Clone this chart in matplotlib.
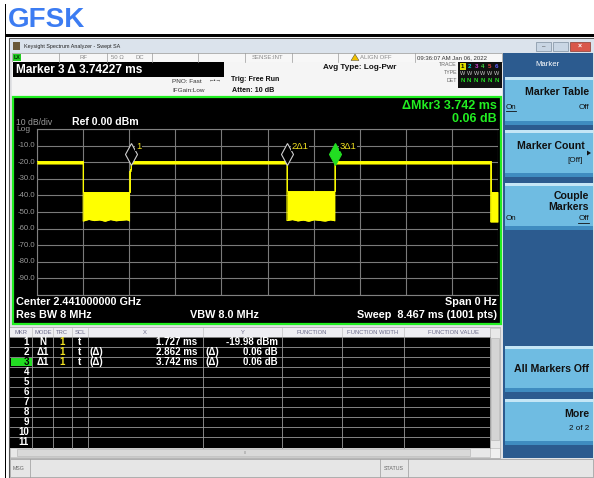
import matplotlib
matplotlib.use("Agg")
import matplotlib.pyplot as plt
from matplotlib.patches import Rectangle, Polygon
from matplotlib import transforms

plt.rcParams['font.family'] = ['Liberation Sans', 'DejaVu Sans']

# ---------------- data ----------------
title = "GFSK"
ref_level_dbm = 0.0
db_per_div = 10
sweep_ms = 8.467
sweep_pts = 1001
y_tick_values = [-10.0, -20.0, -30.0, -40.0, -50.0, -60.0, -70.0, -80.0, -90.0]

# trace envelope (time in ms, upper / lower edge in dBm)
trace_t_ms = [0.000, 0.846,
              0.846, 0.950, 1.050, 1.150, 1.250, 1.350, 1.450, 1.550, 1.650, 1.700,
              1.700, 1.727,
              1.727, 4.589,
              4.589, 4.690, 4.790, 4.890, 4.990, 5.090, 5.190, 5.290, 5.390, 5.469,
              5.469, 8.330,
              8.330, 8.467]
trace_upper_dbm = [-19.4, -19.4,
                   -37.8, -37.8, -37.8, -37.8, -37.8, -37.8, -37.8, -37.8, -37.8, -37.8,
                   -24.0, -24.0,
                   -19.4, -19.4,
                   -37.6, -37.6, -37.6, -37.6, -37.6, -37.6, -37.6, -37.6, -37.6, -37.6,
                   -19.4, -19.4,
                   -37.8, -37.8]
trace_lower_dbm = [-21.0, -21.0,
                   -55.5, -54.5, -55.2, -54.8, -55.6, -54.6, -55.3, -55.0, -54.7, -55.4,
                   -25.5, -25.5,
                   -21.0, -21.0,
                   -55.2, -54.6, -55.4, -54.9, -55.6, -54.7, -55.1, -55.5, -54.8, -55.3,
                   -21.0, -21.0,
                   -56.0, -56.0]

marker_labels = ["1", "2\u03941", "3\u03941"]
marker_t_ms = [1.727, 1.727 + 2.862, 1.727 + 3.742]
marker_level_dbm = [-19.98, -19.92, -19.92]

table_mode = ["N", "\u03941", "\u03941"]
table_trc = ["1", "1", "1"]
table_scl = ["t", "t", "t"]
table_x = ["1.727 ms", "2.862 ms", "3.742 ms"]
table_y = ["-19.98 dBm", "0.06 dB", "0.06 dB"]
table_rows = 11

# ---------------- figure ----------------
W, H = 594, 478
fig = plt.figure(figsize=(W / 100, H / 100), dpi=100)
fig.patch.set_facecolor("white")
bg = fig.add_axes([0, 0, 1, 1])
bg.set_xlim(0, W)
bg.set_ylim(H, 0)
bg.axis("off")


def rect(x0, y0, x1, y1, fc, ec="none", lw=0.0, z=1):
    bg.add_patch(Rectangle((x0, y0), x1 - x0, y1 - y0, facecolor=fc,
                           edgecolor=ec, linewidth=lw, zorder=z))


def txt(x, y, s, size=6, color="black", weight="normal", ha="left", va="center", z=5, **kw):
    bg.text(x, y, s, fontsize=size, color=color, fontweight=weight, ha=ha, va=va,
            zorder=z, **kw)


# outer black frame lines
rect(4.5, 4, 6, H, "black")
rect(5, 33.5, W, 37, "black")
txt(8, 20, title, size=20, color="#3c7cf2", weight="bold")

# window
rect(9, 38, W, H, "#e2e3e6", ec="#555555", lw=0.8)
rect(10, 39, W, 53, "#dbe3ec")
rect(13, 42, 20, 50, "#6b5a3a")
txt(24, 46, "Keysight Spectrum Analyzer - Swept SA", size=3.9, color="#222222")
# window controls
rect(536, 42, 551, 51, "#c9d6e4", ec="#7f8fa0", lw=0.5)
rect(553, 42, 568, 51, "#c9d6e4", ec="#7f8fa0", lw=0.5)
rect(570, 42, 590, 51, "#d9574a", ec="#8a3a30", lw=0.5)
txt(543.5, 46.5, "\u2013", size=4.5, ha="center", color="#333333")
txt(580, 46.5, "\u00d7", size=5, ha="center", color="white", weight="bold")

# status row
rect(12, 53, 502, 61.5, "#f7f7f7", ec="#9a9a9a", lw=0.5)
for xb in [59, 107, 152, 198, 245, 292, 338, 415]:
    bg.plot([xb, xb], [53, 61.5], color="#9a9a9a", lw=0.5, zorder=2)
rect(13, 54, 21, 61, "#22cc22")
txt(17, 57.5, "LX", size=3.8, ha="center", color="#003300", weight="bold")
txt(83, 57.5, "RF", size=4.3, ha="center", color="#888888")
txt(117, 57.5, "50 \u03a9", size=4.3, ha="center", color="#888888")
txt(140, 57.5, "DC", size=4.3, ha="center", color="#888888")
txt(267, 57.5, "SENSE:INT", size=4.3, ha="center", color="#888888")
bg.add_patch(Polygon([[351, 60.5], [355, 54], [359, 60.5]], closed=True,
                     facecolor="#f0c000", edgecolor="#333333", lw=0.3, zorder=3))
txt(360, 57.5, "ALIGN OFF", size=4.3, color="#888888")
txt(417, 57.5, "09:36:07 AM Jan 06, 2022", size=4.3, color="#333333")

# second info row
rect(12, 62, 502, 96, "#f5f5f5")
rect(13, 62, 224, 76.5, "black")
txt(16, 69.5, "Marker 3 \u0394 3.74227 ms", size=8.6, color="white", weight="bold")
txt(202, 81, "PNO: Fast", size=4.6, ha="right", color="#333333")
txt(205, 90, "IFGain:Low", size=4.6, ha="right", color="#333333")
txt(215.5, 81, "\u2190\u2022\u2192", size=4.0, ha="center", color="#333333")
txt(231, 79.5, "Trig: Free Run", size=5.1, color="#111111", weight="bold")
txt(232, 90, "Atten: 10 dB", size=5.1, color="#111111", weight="bold")
txt(323, 67.5, "Avg Type: Log-Pwr", size=5.9, color="#111111", weight="bold")
txt(457, 64.5, "TRACE", size=3.8, ha="right", color="#666666")
txt(457, 72, "TYPE", size=3.8, ha="right", color="#666666")
txt(457, 80, "DET", size=3.8, ha="right", color="#666666")
rect(458, 62, 502, 88, "#111111")
tr_cols = ["#e0e000", "#00d8d8", "#d040d0", "#40e040", "#e04040", "#6060ff"]
for i, c in enumerate(tr_cols):
    if i == 0:
        rect(459.5, 62.5, 465.5, 69.5, "#e0e000")
        txt(462.5, 66, "1", size=4.4, ha="center", color="black", weight="bold")
    else:
        txt(462.5 + i * 6.8, 66, str(i + 1), size=4.4, ha="center", color=c, weight="bold")
    txt(462.5 + i * 6.8, 73, "W", size=4.0, ha="center", color="#cccccc")
    txt(462.5 + i * 6.8, 80.5, "N", size=4.4, ha="center", color="#22dd22", weight="bold")

# right soft-key panel
rect(503, 53, 593, 458, "#2c5b8f")
txt(548, 64, "Marker", size=5.6, ha="center", color="white")


def softkey(y0, y1):
    rect(505, y0, 593, y1, "#6fbce2")
    rect(505, y0, 593, y0 + 2.5, "#c5e6f6")
    rect(505, y1 - 4, 593, y1, "#3f8cc0")


softkey(77, 125)
txt(589, 92, "Marker Table", size=7.6, ha="right", weight="bold", color="#111111")
txt(506, 107, "On", size=5.8, color="#111111")
bg.plot([506, 516], [111, 111], color="#111111", lw=0.6, zorder=6)
txt(589, 107, "Off", size=5.8, ha="right", color="#111111")
softkey(130, 177)
txt(585, 146, "Marker Count", size=7.6, ha="right", weight="bold", color="#111111")
txt(583, 161, "[Off]", size=5.8, ha="right", color="#111111")
bg.add_patch(Polygon([[587, 150.5], [591, 153], [587, 155.5]], closed=True,
                     facecolor="#111111", lw=0, zorder=6))
softkey(183, 230)
txt(589, 196, "Couple", size=7.6, ha="right", weight="bold", color="#111111")
txt(589, 207, "Markers", size=7.6, ha="right", weight="bold", color="#111111")
txt(506, 219, "On", size=5.8, color="#111111")
txt(589, 219, "Off", size=5.8, ha="right", color="#111111")
bg.plot([578, 589], [223, 223], color="#111111", lw=0.6, zorder=6)
softkey(346, 392)
txt(589, 369, "All Markers Off", size=7.6, ha="right", weight="bold", color="#111111")
softkey(399, 445)
txt(589, 414, "More", size=7.6, ha="right", weight="bold", color="#111111")
txt(589, 428, "2 of 2", size=5.8, ha="right", color="#111111")

# graph frame
rect(13, 97, 501, 324, "black", ec="#22ee22", lw=1.6, z=2)

# ---------------- trace axes ----------------
px_l, px_r, px_t, px_b = 37, 498, 129, 295
ax = fig.add_axes([px_l / W, 1 - px_b / H, (px_r - px_l) / W, (px_b - px_t) / H])
ax.set_facecolor("black")
ax.set_xlim(0, sweep_ms)
ax.set_ylim(ref_level_dbm - 10 * db_per_div, ref_level_dbm)
for s in ax.spines.values():
    s.set_color("#808080")
    s.set_linewidth(0.8)
ax.spines["right"].set_visible(False)
ax.set_xticks([sweep_ms * i / 10 for i in range(11)])
ax.set_yticks([ref_level_dbm - db_per_div * i for i in range(11)])
ax.grid(True, color="#7a7a7a", lw=0.8)
ax.tick_params(length=0, labelbottom=False, labelleft=False)
ax.set_axisbelow(True)
ax.fill_between(trace_t_ms, trace_lower_dbm, trace_upper_dbm, color="#ffff00", lw=0, zorder=3)
ax.plot(trace_t_ms, trace_upper_dbm, color="#ffff00", lw=0.7, zorder=3)
ax.plot(trace_t_ms, trace_lower_dbm, color="#ffff00", lw=0.6, zorder=3)

off = transforms.offset_copy(ax.transData, fig=fig, x=0, y=8, units="dots")
lbl = transforms.offset_copy(ax.transData, fig=fig, x=5, y=16, units="dots")
for i, (t, lv, name) in enumerate(zip(marker_t_ms, marker_level_dbm, marker_labels)):
    face = "#22dd22" if i == 2 else "black"
    edge = "#22dd22" if i == 2 else "#d0d0d0"
    ax.plot([t], [lv], marker="d", markersize=11, markerfacecolor=face,
            markeredgecolor=edge, markeredgewidth=0.8, transform=off, zorder=5,
            clip_on=False)
    ax.text(t, lv, name, transform=lbl, fontsize=6.8, color="#f0e020",
            ha="left", va="center", zorder=6,
            bbox=dict(facecolor="black", edgecolor="none", pad=0.5))

# graph annotations (pixel placement)
txt(16, 122.5, "10 dB/div", size=6.2, color="#9a9a9a")
txt(16, 129.5, "Log", size=6.0, color="#9a9a9a")
txt(72, 122, "Ref %.2f dBm" % ref_level_dbm, size=7.6, color="white", weight="bold")
for v in y_tick_values:
    yp = px_t + (ref_level_dbm - v) / (10 * db_per_div) * (px_b - px_t)
    txt(35, yp, "%.1f" % v, size=5.6, ha="right", color="#9a9a9a")
txt(497, 105.5, "\u0394Mkr3 3.742 ms", size=9, ha="right", color="#22ee22", weight="bold")
txt(497, 118.5, "0.06 dB", size=9, ha="right", color="#22ee22", weight="bold")
txt(16, 302, "Center 2.441000000 GHz", size=7.8, color="white", weight="bold")
txt(16, 314.5, "Res BW 8 MHz", size=7.8, color="white", weight="bold")
txt(190, 314.5, "VBW 8.0 MHz", size=7.8, color="white", weight="bold")
txt(497, 302, "Span 0 Hz", size=7.8, ha="right", color="white", weight="bold")
txt(497, 314.5, "Sweep  %.3f ms (%d pts)" % (sweep_ms, sweep_pts), size=7.8, ha="right",
    color="white", weight="bold")

# ---------------- marker table ----------------
cols = [10, 32, 53, 72, 88, 203, 282, 342, 404, 490]
rect(10, 327, 500, 458, "#f0f0f0", ec="#a0a0a0", lw=0.5)
rect(10, 328, 490, 337, "#eeeef2")
hdr = ["MKR", "MODE", "TRC", "SCL", "X", "Y", "FUNCTION", "FUNCTION WIDTH", "FUNCTION VALUE"]
hx = [21, 43, 62, 80, 145, 243, 312, 373, 453]
for s, x in zip(hdr, hx):
    txt(x, 332.5, s, size=4.2, ha="center", color="#6a6a8a")
for xb in cols[1:]:
    bg.plot([xb, xb], [328, 337], color="#c0c0c0", lw=0.5, zorder=2)
rect(10, 337, 490, 447.5, "black", z=2)
for r in range(table_rows):
    y0 = 337 + r * 10
    bg.plot([10, 490], [y0, y0], color="#9a9a9a", lw=0.6, zorder=3)
    yc = y0 + 5.2
    if r == 2:
        rect(10.5, y0 + 0.6, 31.5, y0 + 9.4, "#22dd22", z=3)
        txt(29, yc, str(r + 1), size=7, ha="right", color="black", weight="bold")
    else:
        txt(29, yc, str(r + 1), size=7, ha="right", color="white", weight="bold")
    if r < len(table_x):
        txt(43, yc, table_mode[r], size=7, ha="center", color="white", weight="bold")
        txt(62, yc, table_trc[r], size=7, ha="center", color="#f0e020", weight="bold")
        txt(80, yc, table_scl[r], size=7, ha="center", color="white", weight="bold")
        txt(197, yc, table_x[r], size=7, ha="right", color="white", weight="bold")
        txt(278, yc, table_y[r], size=7, ha="right", color="white", weight="bold")
        if r > 0:
            txt(90, yc, "(\u0394)", size=7, color="white", weight="bold")
            txt(205, yc, "(\u0394)", size=7, color="white", weight="bold")
for xb in cols[1:]:
    bg.plot([xb, xb], [337, 447.5], color="#9a9a9a", lw=0.6, zorder=3)
# scrollbars
rect(490, 328, 500, 448, "#e8e8e8", ec="#b0b0b0", lw=0.4)
rect(491, 338, 499, 440, "#d4d4d4", ec="#b0b0b0", lw=0.4)
rect(10, 448, 490, 456.5, "#e8e8e8", ec="#b0b0b0", lw=0.4)
rect(17, 449, 470, 455.5, "#d9d9d9", ec="#b0b0b0", lw=0.4)
txt(245, 452.5, "III", size=3, ha="center", color="#888888")

# bottom status bar
rect(10, 459, 593, 477, "#e6e6e6", ec="#9a9a9a", lw=0.5)
bg.plot([30, 30], [459, 477], color="#9a9a9a", lw=0.5)
txt(13, 468, "MSG", size=3.8, color="#666666")
bg.plot([380, 380], [459, 477], color="#9a9a9a", lw=0.5)
bg.plot([408, 408], [459, 477], color="#9a9a9a", lw=0.5)
txt(394, 468, "STATUS", size=3.8, ha="center", color="#666666")

fig.savefig("out.png", dpi=100, facecolor=fig.get_facecolor())
